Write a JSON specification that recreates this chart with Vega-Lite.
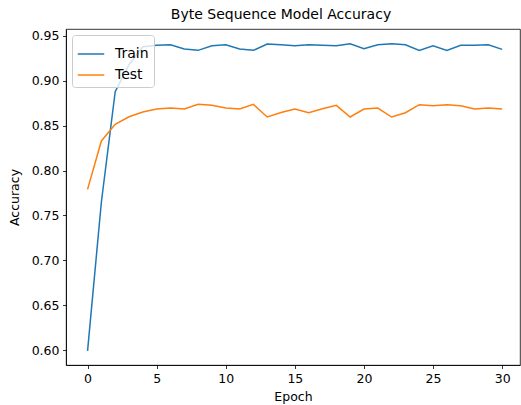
{
  "$schema": "https://vega.github.io/schema/vega-lite/v6.json",
  "width": 454,
  "height": 336,
  "autosize": "none",
  "padding": {"left": 66, "top": 29, "right": 1, "bottom": 40},
  "background": "white",
  "title": {"text": "Byte Sequence Model Accuracy", "font": "DejaVu Sans", "fontSize": 14, "fontWeight": "normal", "color": "black", "offset": 7, "dx": -12},
  "config": {
    "view": {"stroke": "black", "strokeWidth": 0.8},
    "axis": {"grid": false, "domainColor": "black", "domainWidth": 0.8, "tickColor": "black", "tickWidth": 0.8, "tickSize": 3.5, "labelFont": "DejaVu Sans", "labelFontSize": 12.5, "labelColor": "black", "labelPadding": 3.5, "titleFont": "DejaVu Sans", "titleFontSize": 12.5, "titleFontWeight": "normal", "titleColor": "black"},
    "legend": {"labelFont": "DejaVu Sans", "labelFontSize": 14, "labelColor": "black"}
  },
  "data": {"values": [
    {"epoch": 0, "series": "Train", "acc": 0.599},
    {"epoch": 1, "series": "Train", "acc": 0.765},
    {"epoch": 2, "series": "Train", "acc": 0.888},
    {"epoch": 3, "series": "Train", "acc": 0.918},
    {"epoch": 4, "series": "Train", "acc": 0.938},
    {"epoch": 5, "series": "Train", "acc": 0.9396},
    {"epoch": 6, "series": "Train", "acc": 0.9403},
    {"epoch": 7, "series": "Train", "acc": 0.9355},
    {"epoch": 8, "series": "Train", "acc": 0.934},
    {"epoch": 9, "series": "Train", "acc": 0.9392},
    {"epoch": 10, "series": "Train", "acc": 0.9403},
    {"epoch": 11, "series": "Train", "acc": 0.9355},
    {"epoch": 12, "series": "Train", "acc": 0.934},
    {"epoch": 13, "series": "Train", "acc": 0.9411},
    {"epoch": 14, "series": "Train", "acc": 0.9403},
    {"epoch": 15, "series": "Train", "acc": 0.9392},
    {"epoch": 16, "series": "Train", "acc": 0.9403},
    {"epoch": 17, "series": "Train", "acc": 0.9396},
    {"epoch": 18, "series": "Train", "acc": 0.9392},
    {"epoch": 19, "series": "Train", "acc": 0.9414},
    {"epoch": 20, "series": "Train", "acc": 0.9359},
    {"epoch": 21, "series": "Train", "acc": 0.9403},
    {"epoch": 22, "series": "Train", "acc": 0.9414},
    {"epoch": 23, "series": "Train", "acc": 0.9403},
    {"epoch": 24, "series": "Train", "acc": 0.934},
    {"epoch": 25, "series": "Train", "acc": 0.9392},
    {"epoch": 26, "series": "Train", "acc": 0.934},
    {"epoch": 27, "series": "Train", "acc": 0.9396},
    {"epoch": 28, "series": "Train", "acc": 0.9396},
    {"epoch": 29, "series": "Train", "acc": 0.9403},
    {"epoch": 30, "series": "Train", "acc": 0.9351},
    {"epoch": 0, "series": "Test", "acc": 0.779},
    {"epoch": 1, "series": "Test", "acc": 0.833},
    {"epoch": 2, "series": "Test", "acc": 0.8515},
    {"epoch": 3, "series": "Test", "acc": 0.86},
    {"epoch": 4, "series": "Test", "acc": 0.8653},
    {"epoch": 5, "series": "Test", "acc": 0.8686},
    {"epoch": 6, "series": "Test", "acc": 0.8697},
    {"epoch": 7, "series": "Test", "acc": 0.8686},
    {"epoch": 8, "series": "Test", "acc": 0.8738},
    {"epoch": 9, "series": "Test", "acc": 0.8727},
    {"epoch": 10, "series": "Test", "acc": 0.8697},
    {"epoch": 11, "series": "Test", "acc": 0.8686},
    {"epoch": 12, "series": "Test", "acc": 0.8738},
    {"epoch": 13, "series": "Test", "acc": 0.8597},
    {"epoch": 14, "series": "Test", "acc": 0.8648},
    {"epoch": 15, "series": "Test", "acc": 0.8686},
    {"epoch": 16, "series": "Test", "acc": 0.8645},
    {"epoch": 17, "series": "Test", "acc": 0.869},
    {"epoch": 18, "series": "Test", "acc": 0.8727},
    {"epoch": 19, "series": "Test", "acc": 0.8597},
    {"epoch": 20, "series": "Test", "acc": 0.8686},
    {"epoch": 21, "series": "Test", "acc": 0.8697},
    {"epoch": 22, "series": "Test", "acc": 0.8597},
    {"epoch": 23, "series": "Test", "acc": 0.8645},
    {"epoch": 24, "series": "Test", "acc": 0.8734},
    {"epoch": 25, "series": "Test", "acc": 0.8723},
    {"epoch": 26, "series": "Test", "acc": 0.8734},
    {"epoch": 27, "series": "Test", "acc": 0.8723},
    {"epoch": 28, "series": "Test", "acc": 0.8686},
    {"epoch": 29, "series": "Test", "acc": 0.8697},
    {"epoch": 30, "series": "Test", "acc": 0.8686}
  ]},
  "mark": {"type": "line", "strokeWidth": 1.5, "clip": true},
  "encoding": {
    "x": {"field": "epoch", "type": "quantitative", "title": "Epoch",
      "scale": {"domain": [-1.56, 31.29], "nice": false, "zero": false},
      "axis": {"values": [0, 5, 10, 15, 20, 25, 30], "format": "d", "titlePadding": 6}},
    "y": {"field": "acc", "type": "quantitative", "title": "Accuracy",
      "scale": {"domain": [0.5833, 0.9578], "nice": false, "zero": false},
      "axis": {"values": [0.6, 0.65, 0.7, 0.75, 0.8, 0.85, 0.9, 0.95], "format": ".2f", "titlePadding": 10}},
    "color": {"field": "series", "type": "nominal",
      "scale": {"domain": ["Train", "Test"], "range": ["#1f77b4", "#ff7f0e"]},
      "legend": {"title": null, "orient": "top-left", "offset": 6, "padding": 5, "strokeColor": "#cccccc", "fillColor": "rgba(255,255,255,0.8)", "cornerRadius": 3, "symbolType": "stroke", "symbolStrokeWidth": 1.5, "symbolSize": 700, "rowPadding": 0, "labelOffset": 10}}
  }
}
